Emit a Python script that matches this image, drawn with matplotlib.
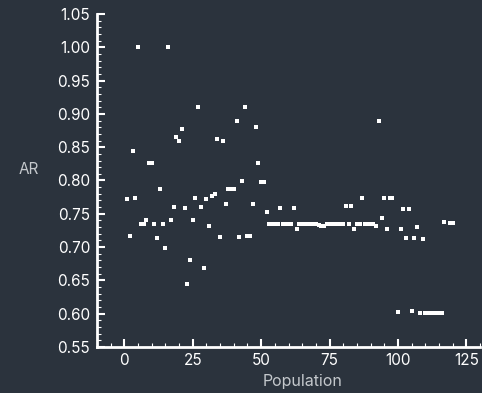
import numpy as np
import matplotlib
matplotlib.use('Agg')
import matplotlib.pyplot as plt
from matplotlib.ticker import MultipleLocator

# population index and AR value
population = [1, 2, 3, 4, 5, 6, 7, 8, 9, 10,
              11, 12, 13, 14, 15, 16, 17, 18, 19, 20,
              21, 22, 23, 24, 25, 26, 27, 28, 29, 30,
              31, 32, 33, 34, 35, 36, 37, 38, 39, 40,
              41, 42, 43, 44, 45, 46, 47, 48, 49, 50,
              51, 52, 53, 54, 55, 56, 57, 58, 59, 60,
              61, 62, 63, 64, 65, 66, 67, 68, 69, 70,
              71, 72, 73, 74, 75, 76, 77, 78, 79, 80,
              81, 82, 83, 84, 85, 86, 87, 88, 89, 90,
              91, 92, 93, 94, 95, 96, 97, 98, 100, 101,
              102, 103, 104, 105, 106, 107, 108, 109, 110, 111,
              112, 113, 114, 115, 116, 117, 119, 120]
ar = [0.772, 0.717, 0.845, 0.773, 1.000, 0.735, 0.734, 0.741, 0.826, 0.826,
      0.734, 0.714, 0.787, 0.734, 0.699, 1.000, 0.741, 0.760, 0.866, 0.860,
      0.878, 0.759, 0.644, 0.681, 0.741, 0.774, 0.910, 0.760, 0.668, 0.772,
      0.732, 0.777, 0.779, 0.862, 0.715, 0.860, 0.764, 0.787, 0.787, 0.787,
      0.889, 0.715, 0.799, 0.910, 0.716, 0.716, 0.764, 0.880, 0.827, 0.798,
      0.798, 0.752, 0.734, 0.735, 0.734, 0.734, 0.758, 0.735, 0.734, 0.734,
      0.735, 0.758, 0.727, 0.734, 0.735, 0.734, 0.734, 0.735, 0.734, 0.734,
      0.733, 0.732, 0.732, 0.735, 0.734, 0.734, 0.735, 0.734, 0.734, 0.734,
      0.762, 0.734, 0.762, 0.727, 0.734, 0.734, 0.773, 0.735, 0.735, 0.734,
      0.735, 0.731, 0.889, 0.744, 0.773, 0.727, 0.773, 0.773, 0.603, 0.727,
      0.757, 0.713, 0.757, 0.604, 0.713, 0.730, 0.601, 0.712, 0.601, 0.601,
      0.601, 0.601, 0.601, 0.601, 0.601, 0.738, 0.736, 0.736]

bg = '#2b333d'
fg = '#ffffff'
lab = '#c4c8cc'

plt.rcParams['font.family'] = ['Inter', 'DejaVu Sans']

fig = plt.figure(figsize=(4.82, 3.93), dpi=100, facecolor=bg)
ax = fig.add_axes([97 / 482, 1 - 347 / 393, 383 / 482, 333 / 393])
ax.set_facecolor(bg)

ax.plot(population, ar, ls='none', marker='s', ms=3, mew=0, color=fg)

ax.set_xlim(-10, 130)
ax.set_ylim(0.55, 1.05)
ax.xaxis.set_major_locator(MultipleLocator(25))
ax.xaxis.set_minor_locator(MultipleLocator(5))
ax.yaxis.set_major_locator(MultipleLocator(0.05))
ax.yaxis.set_minor_locator(MultipleLocator(0.01))
ax.yaxis.set_major_formatter(plt.FormatStrFormatter('%.2f'))

for s in ['top', 'right']:
    ax.spines[s].set_visible(False)
for s in ['left', 'bottom']:
    ax.spines[s].set_color(fg)
    ax.spines[s].set_linewidth(2)

ax.tick_params(which='major', direction='in', length=6, width=1.5, color=fg,
               labelcolor=fg, labelsize=11)
ax.tick_params(which='minor', direction='in', length=3, width=0.8, color=fg)
ax.tick_params(axis='x', which='major', pad=4)
ax.tick_params(axis='y', which='major', pad=5)

ax.set_xlabel('Population', color=lab, fontsize=11.5, va='center')
ax.xaxis.set_label_coords(0.538, -0.104)
ax.set_ylabel('AR', color=lab, fontsize=11, rotation=0, ha='center', va='center')
ax.yaxis.set_label_coords(-0.179, 0.532)

fig.savefig('out.png', dpi=100, facecolor=bg)
